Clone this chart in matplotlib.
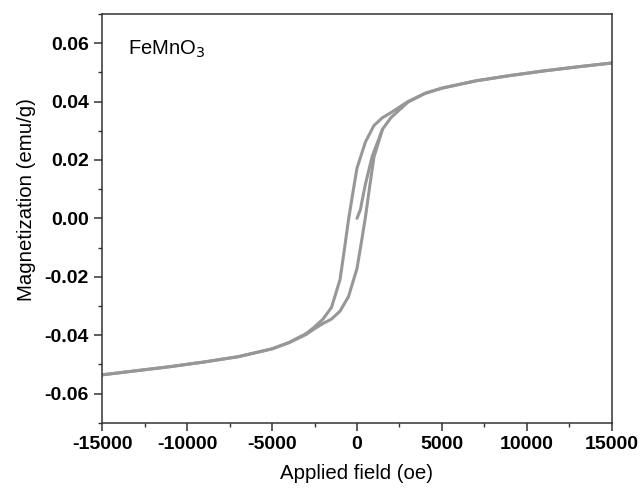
import matplotlib
matplotlib.use("Agg")
import matplotlib.pyplot as plt
from matplotlib.ticker import MultipleLocator

plt.rcParams["font.family"] = ["Liberation Sans", "DejaVu Sans"]

# virgin curve, field sweep 0 -> +H
H_virgin = [0, 200, 500, 900, 1500]
M_virgin = [0.0, 0.0030, 0.0118, 0.0213, 0.0305]

# descending branch, +15000 -> -15000 Oe
H_desc = [15000, 13000, 11000, 9000, 7000, 5000, 4000, 3000, 2000, 1500, 1000, 500, 0,
          -250, -500, -750, -1000, -1500, -2000, -2500, -3000, -4000, -5000, -7000,
          -9000, -11000, -13000, -15000]
M_desc = [0.0532, 0.0519, 0.0505, 0.0489, 0.0471, 0.0446, 0.0428, 0.0400, 0.0362, 0.0345,
          0.0318, 0.0262, 0.0172, 0.0085, -0.0005, -0.0110, -0.0210, -0.0305, -0.0345,
          -0.0372, -0.0395, -0.0425, -0.0447, -0.0474, -0.0492, -0.0508, -0.0522, -0.0536]

# ascending branch, -15000 -> +15000 Oe
H_asc = [-15000, -13000, -11000, -9000, -7000, -5000, -4000, -3000, -2500, -2000, -1500,
         -1000, -500, 0, 250, 500, 750, 1000, 1500, 2000, 3000, 4000, 5000, 7000, 9000,
         11000, 13000, 15000]
M_asc = [-0.0536, -0.0522, -0.0508, -0.0492, -0.0474, -0.0447, -0.0426, -0.0398, -0.0378,
         -0.0360, -0.0345, -0.0318, -0.0268, -0.0172, -0.0085, 0.0005, 0.0110, 0.0210,
         0.0305, 0.0345, 0.0398, 0.0428, 0.0446, 0.0471, 0.0489, 0.0505, 0.0519, 0.0532]

x_ticks = [-15000, -10000, -5000, 0, 5000, 10000, 15000]
y_ticks = [-0.06, -0.04, -0.02, 0.0, 0.02, 0.04, 0.06]

fig = plt.figure(figsize=(6.42, 4.91), dpi=100)
ax = fig.add_axes([0.1593, 0.1391, 0.7935, 0.8324])

line_kw = dict(color="#979797", lw=2.2, solid_joinstyle="round", solid_capstyle="round")
ax.plot(H_virgin, M_virgin, **line_kw)
ax.plot(H_desc, M_desc, **line_kw)
ax.plot(H_asc, M_asc, **line_kw)

ax.set_xlim(-15000, 15000)
ax.set_ylim(-0.07, 0.07)
ax.set_xticks(x_ticks)
ax.set_xticklabels([f"{v:d}" for v in x_ticks])
ax.set_yticks(y_ticks)
ax.set_yticklabels([f"{v:.2f}" for v in y_ticks])
ax.xaxis.set_minor_locator(MultipleLocator(2500))
ax.yaxis.set_minor_locator(MultipleLocator(0.01))

ax.tick_params(which="major", direction="out", length=5.8, width=1.1, labelsize=14, pad=4)
ax.tick_params(which="minor", direction="out", length=3.2, width=1.0)
ax.tick_params(top=False, right=False, which="both", color="#333333")
for lbl in ax.get_xticklabels() + ax.get_yticklabels():
    lbl.set_fontweight("bold")
for sp in ax.spines.values():
    sp.set_linewidth(1.1)
    sp.set_color("#333333")

ax.set_xlabel("Applied field (oe)", fontsize=14.7, labelpad=8)
# the label sits a little above the axes centre in the original
ax.set_ylabel("Magnetization (emu/g)", fontsize=14.7, labelpad=6, y=0.547)
ax.text(0.05, 0.914, "FeMnO$_3$", transform=ax.transAxes, fontsize=14.5, va="center")

fig.savefig("out.png", dpi=100)
